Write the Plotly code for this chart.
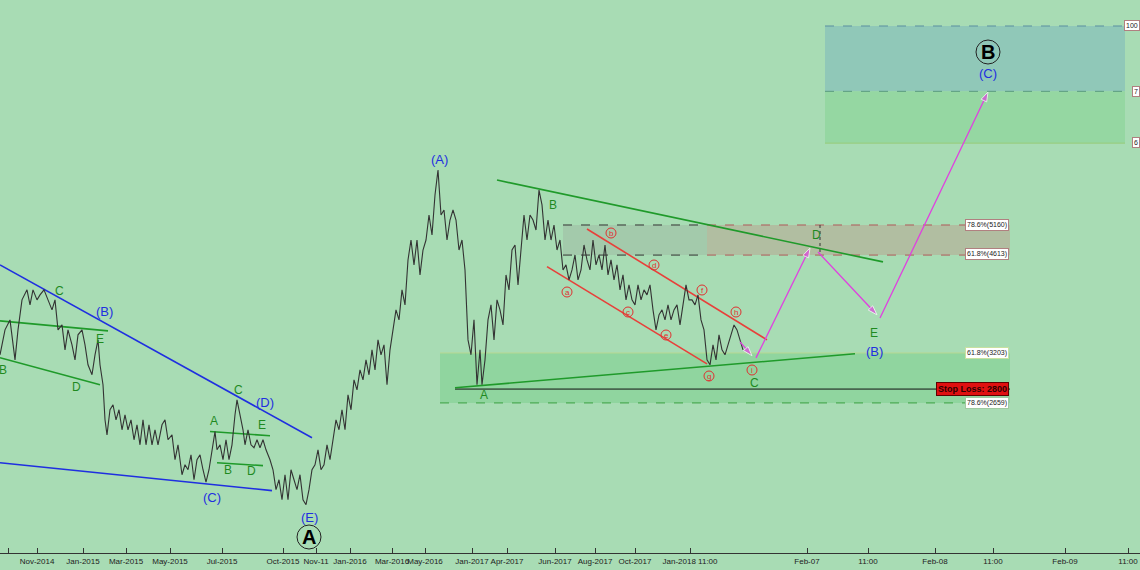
import plotly.graph_objects as go

# price path (x = bar index on chart, price)
bar_x = [0,5,10,15,18,22,27,30,33,37,40,44,48,52,55,58,62,65,68,72,75,78,82,85,88,92,95,98,100,103,105,107,110,113,116,119,122,125,128,131,134,137,140,143,146,149,152,155,158,162,165,168,172,175,178,182,185,188,191,194,197,200,203,206,209,212,215,217,220,223,226,229,232,235,237,240,243,245,248,251,254,257,260,263,266,270,273,276,279,282,285,288,291,294,297,300,303,306,309,312,315,318,321,324,327,330,333,336,339,342,345,348,351,354,357,360,363,366,369,372,375,378,381,384,387,390,393,396,399,402,405,408,411,414,417,420,423,426,429,432,435,438,441,444,447,450,453,456,459,462,465,468,471,474,477,480,482,485,488,491,494,497,500,503,506,509,512,515,518,521,524,527,530,533,536,539,542,545,548,551,554,557,560,563,566,569,572,575,578,581,584,587,590,593,596,599,602,605,608,611,614,617,620,623,626,629,632,635,638,641,644,647,650,653,656,659,662,665,668,671,674,677,680,683,686,689,692,695,698,701,704,707,710,713,716,719,722,725,728,731,734,737,740,743]
price = [3181,3491,3623,3122,3491,3904,4052,3832,4052,3904,3977,4052,3904,3761,3904,3491,3556,3241,3491,3301,3122,3427,3491,3301,3065,2953,3181,3363,3065,2845,2497,2361,2592,2641,2497,2592,2406,2544,2406,2497,2318,2451,2275,2497,2275,2451,2275,2406,2275,2451,2497,2318,2361,2152,2275,2035,2112,2073,2192,1997,2152,2192,2073,1980,2073,2233,2390,2233,2275,2152,2318,2152,2275,2544,2690,2544,2406,2275,2406,2275,2250,2318,2250,2318,2233,2152,2073,1925,1997,1854,2035,1854,2073,1997,1925,2035,1854,1820,1925,2073,2112,2233,2073,2112,2275,2152,2318,2497,2406,2592,2406,2741,2592,2898,2792,3008,2898,3122,2953,3241,3008,3363,3181,3301,2845,3241,3491,3761,3623,4052,3832,4530,4879,4447,4879,4284,4701,4879,5356,4971,5770,6333,5356,5457,4879,5256,5457,5256,4701,4879,4364,3363,3181,3623,2845,3241,2845,3122,3623,3832,3363,3904,3761,3556,4284,4052,4701,4790,4128,4701,5356,4879,5356,5256,5065,5877,5560,4879,5256,4879,5160,4701,4879,4364,4447,4205,4364,4615,4205,4364,4790,4530,4364,4879,4447,4615,4364,4790,4284,4530,4205,4447,4052,4284,3904,4128,3904,3832,4128,3904,4052,3977,4128,3761,3491,3692,3761,3623,3832,3623,3761,3832,3556,3832,4128,3904,3904,3832,3977,3623,3491,3122,3065,3301,3122,3427,3241,3181,3301,3427,3556,3491,3363,3241]

tick_pos = [8,37,83,126,170,222,283,316,350,392,425,472,507,555,595,635,690,807,868,935,993,1065,1128]
tick_text = ["2014","Nov-2014","Jan-2015","Mar-2015","May-2015","Jul-2015","Oct-2015","Nov-11","Jan-2016","Mar-2016","May-2016",
             "Jan-2017","Apr-2017","Jun-2017","Aug-2017","Oct-2017","Jan-2018 11:00","Feb-07","11:00","Feb-08","11:00","Feb-09","11:00"]

# fib / target levels
target_top, target_mid, target_low = 10830, 8490, 7000
resist_hi, resist_lo = 5160, 4613
support_hi, support_lo = 3203, 2659
stop_loss = 2800

# trend lines: (x0, p0, x1, p1, colour)
trend_lines = [
    (0, 4447, 312, 2335, "#1f2fe0"), (0, 2128, 272, 1918, "#1f2fe0"),
    (0, 3610, 108, 3478, "#1f9a2a"), (0, 3146, 100, 2845, "#1f9a2a"),
    (210, 2390, 270, 2353, "#1f9a2a"), (217, 2128, 263, 2105, "#1f9a2a"),
    (497, 6100, 883, 4497, "#1f9a2a"), (455, 2813, 855, 3193, "#1f9a2a"),
    (587, 5084, 767, 3363, "#e8403a"), (547, 4419, 707, 3075, "#e8403a"),
]
# projected path segments
proj = [(740, 3338, 752, 3170), (756, 3145, 810, 4736), (818, 4666, 877, 3692), (880, 3649, 988, 8470)]

H = 553.0  # plot height in px

fig = go.Figure()

def box(x0, x1, p0, p1, fill):
    fig.add_trace(go.Scatter(x=[x0, x1, x1, x0, x0], y=[p0, p0, p1, p1, p0], fill="toself",
                             fillcolor=fill, mode="lines", line=dict(width=0), hoverinfo="skip"))

box(825, 1125, target_top, target_mid, "rgba(140,196,185,0.85)")
box(825, 1125, target_mid, target_low, "rgba(146,214,160,0.9)")
box(707, 1010, resist_hi, resist_lo, "rgba(180,180,155,0.75)")
box(563, 707, resist_hi, resist_lo, "rgba(160,190,165,0.6)")
box(440, 1010, support_hi, support_lo, "rgba(140,212,155,0.85)")

def hline(x0, x1, p, color, dash="dash", w=1):
    fig.add_trace(go.Scatter(x=[x0, x1], y=[p, p], mode="lines", line=dict(color=color, width=w, dash=dash), hoverinfo="skip"))

hline(825, 1125, target_top, "#5b8fa0")
hline(825, 1125, target_mid, "#5b9a80")
hline(825, 1125, target_low, "#9acb7a", "solid")
hline(563, 707, resist_hi, "#333333")
hline(563, 707, resist_lo, "#333333")
hline(707, 1010, resist_hi, "#b05a5a")
hline(707, 1010, resist_lo, "#b05a5a")
hline(440, 1010, support_hi, "#b8d890", "solid")
hline(440, 1010, support_lo, "#3aa040")
hline(455, 1010, stop_loss, "#111111", "solid")
fig.add_trace(go.Scatter(x=[820, 820], y=[resist_hi, resist_lo], mode="lines",
                         line=dict(color="#333", width=1, dash="dot"), hoverinfo="skip"))

for x0, p0, x1, p1, c in trend_lines:
    fig.add_trace(go.Scatter(x=[x0, x1], y=[p0, p1], mode="lines", line=dict(color=c, width=1.6), hoverinfo="skip"))

fig.add_trace(go.Scatter(x=bar_x, y=price, mode="lines", line=dict(color="#333333", width=1.1), hoverinfo="skip"))

for x0, p0, x1, p1 in proj:
    fig.add_trace(go.Scatter(x=[x0, x1], y=[p0, p1], mode="lines+markers",
                             line=dict(color="#e040e0", width=1.3),
                             marker=dict(symbol="arrow", size=[0, 10], angleref="previous", color="#e040e0"),
                             hoverinfo="skip"))

ann = []
def label(x, ypx, text, color, size=12, bold=False):
    t = "<b>%s</b>" % text if bold else text
    ann.append(dict(x=x, y=1 - ypx / H, xref="x", yref="paper", text=t, showarrow=False,
                    xanchor="center", yanchor="middle",
                    font=dict(color=color, size=size, family="Arial")))

blue = "#1f2fe0"
for x, y, t in [(439, 160, "(A)"), (104, 311, "(B)"), (212, 497, "(C)"), (265, 402, "(D)"), (309, 517, "(E)"),
                (874, 351, "(B)"), (988, 73, "(C)")]:
    label(x, y, t, blue, 13)
green = "#1f8a1f"
for x, y, t in [(59, 291, "C"), (3, 370, "B"), (76, 387, "D"), (100, 339, "E"), (214, 421, "A"), (238, 390, "C"),
                (262, 425, "E"), (228, 470, "B"), (251, 471, "D"), (553, 205, "B"), (484, 395, "A"), (754, 383, "C"),
                (816, 235, "D"), (874, 333, "E")]:
    label(x, y, t, green, 12)

shapes = []
for x, y, t in [(309, 537, "A"), (988, 52, "B")]:
    label(x, y, t, "#000", 20, True)
    shapes.append(dict(type="circle", xref="x", yref="paper", x0=x - 12, x1=x + 12,
                       y0=1 - (y + 12) / H, y1=1 - (y - 12) / H, line=dict(color="#222", width=1)))
for x, y, t in [(567, 292, "a"), (611, 233, "b"), (628, 312, "c"), (654, 265, "d"), (666, 335, "e"),
                (702, 290, "f"), (709, 376, "g"), (736, 312, "h"), (752, 370, "i")]:
    label(x, y, t, "#e03030", 8)
    shapes.append(dict(type="circle", xref="x", yref="paper", x0=x - 5, x1=x + 5,
                       y0=1 - (y + 5) / H, y1=1 - (y - 5) / H, line=dict(color="#e03030", width=1)))

def tag(ypx, text, x=1009, bg="white", fc="#222", border="#b08080", size=7):
    ann.append(dict(x=x, y=1 - ypx / H, xref="x", yref="paper", text=text, showarrow=False,
                    xanchor="right", yanchor="middle",
                    bgcolor=bg, bordercolor=border, borderwidth=1, borderpad=1,
                    font=dict(color=fc, size=size, family="Liberation Sans")))

tag(225, "78.6%(5160)")
tag(254, "61.8%(4613)")
tag(353, "61.8%(3203)", border="#c8e0a0")
tag(403, "78.6%(2659)", border="#a0c8a0")
tag(389, "<b>Stop Loss: 2800</b>", bg="#e01010", fc="#300000", border="#600000", size=9)
tag(26, "100", x=1140)
tag(91, "7", x=1140)
tag(143, "6", x=1140)

fig.update_layout(
    width=1140, height=570, margin=dict(l=0, r=0, t=0, b=17, autoexpand=False),
    paper_bgcolor="#a8dcb4", plot_bgcolor="#a8dcb4",
    showlegend=False, annotations=ann, shapes=shapes,
    xaxis=dict(range=[0, 1140], tickvals=tick_pos, ticktext=tick_text, showgrid=False, zeroline=False,
               ticks="inside", ticklen=5, tickcolor="#333", showline=True, linecolor="#333",
               tickangle=0, automargin=False,
               tickfont=dict(size=8, family="Liberation Sans", color="#222")),
    yaxis=dict(type="log", range=[3.1819, 4.0767], visible=False, showgrid=False, automargin=False),
)

fig.write_html("out.html", config={"displayModeBar": False})

# drop the browser's default page margin so the figure fills the window
with open("out.html", encoding="utf-8") as f:
    page = f.read()
page = page.replace("<head>", "<head><style>body{margin:0;overflow:hidden}</style>", 1)
with open("out.html", "w", encoding="utf-8") as f:
    f.write(page)
